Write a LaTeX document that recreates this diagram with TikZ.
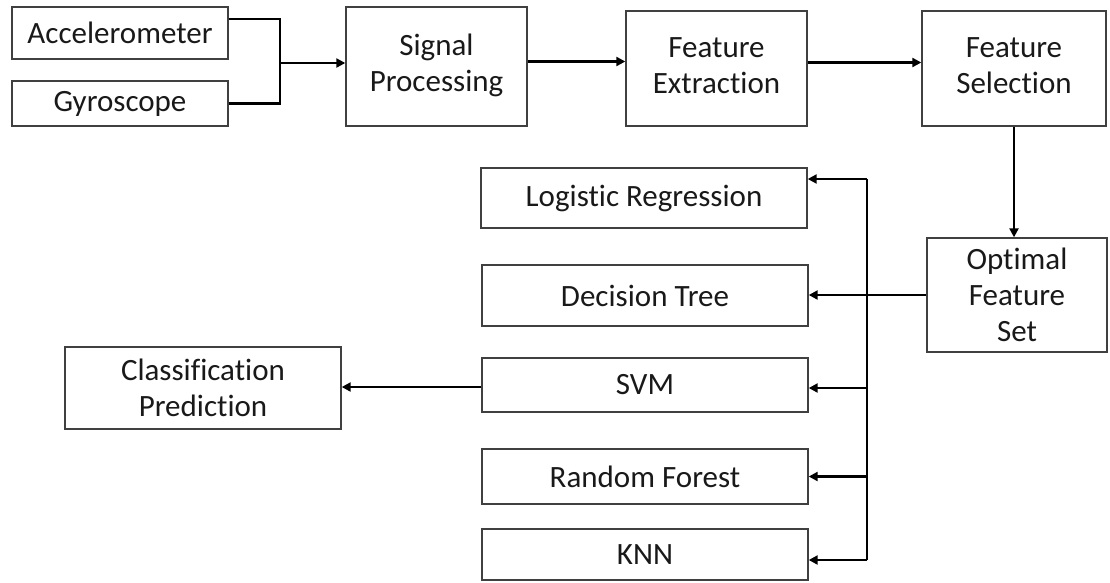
\documentclass[tikz,border=0pt]{standalone}
\usepackage{fontspec}
\setmainfont{Carlito}[Ligatures=NoCommon]
\usetikzlibrary{arrows.meta}
\newcommand{\uptext}[1]{\raisebox{6pt}{\begin{tabular}{@{}c@{}}#1\end{tabular}}}
\begin{document}
\begin{tikzpicture}[x=1pt,y=-1pt,
  box/.style={draw=black!75,line width=1.4pt,inner sep=0pt,align=center,
    font=\fontsize{31}{36}\selectfont,text=black!90},
  conn/.style={draw=black,line width=2.2pt},
  arr/.style={conn,-{Triangle[length=9pt,width=9pt]}}]
\useasboundingbox (0,0) rectangle (1110,582);
% top row
\node[box,minimum width=216pt,minimum height=52pt] (acc) at (120,33) {Accelerometer};
\node[box,minimum width=216pt,minimum height=45pt] (gyro) at (120,103.5) {Gyroscope};
\node[box,minimum width=181pt,minimum height=119pt] (sp) at (436.5,66.5) {\uptext{Signal\\Processing}};
\node[box,minimum width=181pt,minimum height=115pt] (fe) at (716.5,68.5) {\uptext{Feature\\Extraction}};
\node[box,minimum width=184pt,minimum height=115pt] (fs) at (1014,68.5) {\uptext{Feature\\Selection}};
\node[box,minimum width=180pt,minimum height=114pt] (ofs) at (1017,295) {Optimal\\Feature\\Set};
% classifiers
\node[box,minimum width=326pt,minimum height=60pt] (lr) at (644,198) {Logistic Regression};
\node[box,minimum width=326pt,minimum height=61pt] (dt) at (645,295.5) {Decision Tree};
\node[box,minimum width=326pt,minimum height=54pt] (svm) at (645,385) {SVM};
\node[box,minimum width=326pt,minimum height=55pt] (rf) at (645,476.5) {Random Forest};
\node[box,minimum width=326pt,minimum height=51pt] (knn) at (645,554.5) {KNN};
\node[box,minimum width=276pt,minimum height=82pt] (cp) at (203,388) {Classification\\Prediction};
% connectors
\coordinate (j) at (280,63);
\draw[conn] ([yshift=14pt]acc.east) -| (j);
\draw[conn] (gyro.east) -| (j);
\draw[arr] (j) -- (j -| sp.west);
\draw[arr] ([yshift=5pt]sp.east) -- ([yshift=5pt]sp.east -| fe.west);
\draw[arr] ([yshift=6pt]fe.east) -- ([yshift=6pt]fe.east -| fs.west);
\draw[arr] (fs.south) -- (fs.south |- ofs.north);
\coordinate (bt) at (867,179);
\coordinate (bb) at (867,560);
\draw[conn] (bt) -- (bb);
\draw[arr] (bt) -- (bt -| lr.east);
\draw[arr] (ofs.west) -- (ofs.west -| dt.east);
\draw[arr] ([yshift=-3pt]svm.east -| bb) -- ([yshift=-3pt]svm.east);
\draw[arr] (rf.east -| bb) -- (rf.east);
\draw[arr] (bb) -- (bb -| knn.east);
\draw[arr] ([yshift=-2pt]svm.west) -- ([yshift=-2pt]svm.west -| cp.east);
\end{tikzpicture}
\end{document}
